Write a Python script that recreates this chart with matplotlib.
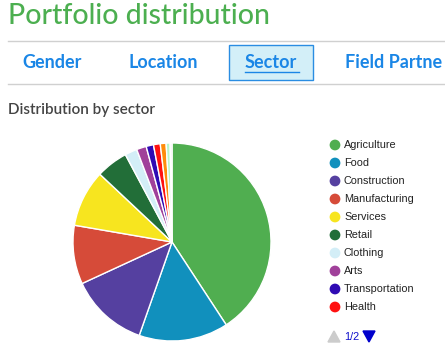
import matplotlib

matplotlib.use("Agg")
import matplotlib.pyplot as plt
from matplotlib.patches import Rectangle, Polygon

# sector shares (%), clockwise from 12 o'clock
sectors = ["Agriculture", "Food", "Construction", "Manufacturing", "Services",
           "Retail", "Clothing", "Arts", "Transportation", "Health",
           "Personal Use", "Housing", "Education"]
shares = [40.8, 14.6, 12.75, 9.6, 9.3, 5.2, 2.0, 1.6, 1.2, 1.1, 0.95, 0.65, 0.3]
colors = ["#50ae50", "#1190bd", "#5540a0", "#d64b39", "#f7e51f", "#226e38",
          "#d3eef7", "#a0409a", "#2f0bb4", "#ff1111", "#ff8c0a", "#b8f5c8",
          "#e8e8e8"]
legend_count = 10  # legend page 1/2 shows the first ten
tabs = ["Gender", "Location", "Sector", "Field Partne"]
tab_x = [22, 128, 245, 345]

W, H = 445, 356
fig = plt.figure(figsize=(W / 100, H / 100), dpi=100)

# overlay axes in pixel coordinates for page furniture
deco = fig.add_axes([0, 0, 1, 1])
deco.set_xlim(0, W)
deco.set_ylim(H, 0)
deco.axis("off")

deco.text(8, 16, "Portfolio distribution", color="#4caf50", fontsize=20.5,
          family="Lato", weight=500, va="center", ha="left")
deco.plot([8, W], [41, 41], color="#d0d0d0", lw=1)
deco.plot([8, W], [84, 84], color="#d0d0d0", lw=1)
deco.add_patch(Rectangle((229, 45), 84, 35, facecolor="#d3eff8",
                         edgecolor="#2a8de2", lw=1))
for name, x in zip(tabs, tab_x):
    deco.text(x, 63, name, color="#1a86e6", fontsize=13, family="Lato",
              weight="bold", va="center", ha="left")
deco.plot([245, 299], [72, 72], color="#1a86e6", lw=1)

deco.text(8, 110, "Distribution by sector", color="#444444", fontsize=11,
          family="Lato", weight=600, va="center", ha="left")

# legend (first page)
for i in range(legend_count):
    y = 145 + i * 18
    deco.scatter([335], [y], s=60, color=colors[i], edgecolor="none")
    deco.text(344, y, sectors[i], fontsize=7.8, family="Liberation Sans",
              color="#222222", va="center", ha="left")
deco.add_patch(Polygon([[328, 342], [340, 342], [334, 331]], color="#cccccc"))
deco.text(344, 337, "1/2", fontsize=7.8, family="Liberation Sans",
          color="#1010cc", va="center", ha="left")
deco.add_patch(Polygon([[363, 331], [375, 331], [369, 342]], color="#0000cc"))

# pie
cx, cy, r = 172, 242, 100
ax = fig.add_axes([(cx - r) / W, (H - cy - r) / H, 2 * r / W, 2 * r / H])
ax.pie(shares, colors=colors, startangle=90, counterclock=False,
       wedgeprops={"edgecolor": "white", "linewidth": 1})
ax.set_xlim(-1.01, 1.01)
ax.set_ylim(-1.01, 1.01)
ax.axis("off")

fig.savefig("out.png", dpi=100, facecolor="white")
